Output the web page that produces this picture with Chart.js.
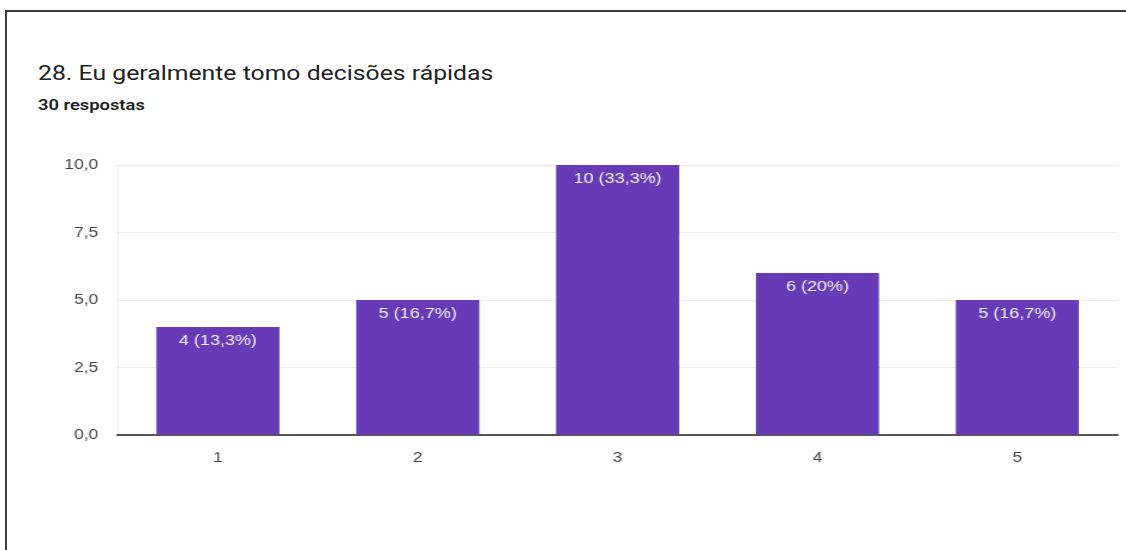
<!DOCTYPE html>
<html lang="pt">
<head>
<meta charset="UTF-8">
<title>28. Eu geralmente tomo decisões rápidas</title>
<script src="https://cdn.jsdelivr.net/npm/chart.js@4.4.0/dist/chart.umd.min.js"></script>
<style>
    body { margin: 0; background: #fff; overflow: hidden; }
    #frame {
        position: absolute; left: 5px; top: 10px; width: 1200px; height: 600px;
        border-top: 2px solid #3a3a3a; border-left: 2px solid #3a3a3a;
    }
    #titulo {
        position: absolute; left: 38px; top: 61px; transform: scaleX(1.18); transform-origin: 0 0;
        font-family: Roboto, "Noto Sans", sans-serif; font-size: 21px; color: #202124; white-space: nowrap;
    }
    #sub {
        position: absolute; left: 38px; top: 97px; transform: scaleX(1.31); transform-origin: 0 0;
        font-family: Roboto, "Noto Sans", sans-serif; font-size: 14px; font-weight: 600; color: #202124; white-space: nowrap;
    }
    /* o gráfico é desenhado mais estreito e esticado na horizontal */
    #wrap {
        position: absolute; left: 0; top: 0; width: 938px; height: 550px;
        transform: scaleX(1.2); transform-origin: 0 0;
    }
</style>
</head>
<body>
<div id="frame"></div>
<div id="titulo">28. Eu geralmente tomo decisões rápidas</div>
<div id="sub">30 respostas</div>
<div id="wrap"><canvas id="grafico" width="938" height="550"></canvas></div>

<script>
    const categorias = ["1", "2", "3", "4", "5"];
    const respostas = [4, 5, 10, 6, 5];
    const percentuais = ["13,3%", "16,7%", "33,3%", "20%", "16,7%"];
    const ticksY = [0, 2.5, 5, 7.5, 10];

    const roxo = "#673ab7";
    const fonte = "'Liberation Sans', Arial, sans-serif";

    // escreve "n (x%)" dentro do topo de cada barra
    const rotulosBarras = {
        id: "rotulosBarras",
        afterDatasetsDraw(chart) {
            const ctx = chart.ctx;
            const meta = chart.getDatasetMeta(0);
            ctx.save();
            ctx.font = "15px " + fonte;
            ctx.fillStyle = "#f6f2ff";
            ctx.textAlign = "center";
            ctx.textBaseline = "middle";
            meta.data.forEach((bar, i) => {
                ctx.fillText(respostas[i] + " (" + percentuais[i] + ")", bar.x, bar.y + 14);
            });
            ctx.restore();
        }
    };

    new Chart(document.getElementById("grafico"), {
        type: "bar",
        data: {
            labels: categorias,
            datasets: [{
                data: respostas,
                backgroundColor: roxo,
                barPercentage: 0.616,
                categoryPercentage: 1
            }]
        },
        options: {
            responsive: false,
            animation: false,
            events: [],
            layout: { padding: { left: 16, right: 7, top: 165, bottom: 85 } },
            plugins: { legend: { display: false }, tooltip: { enabled: false } },
            scales: {
                x: {
                    offset: true,
                    grid: {
                        drawTicks: false,
                        color: (c) => (c.index === 0 || c.index === categorias.length) ? "#eeeeee" : "rgba(0,0,0,0)"
                    },
                    border: { display: true, color: "#555555", width: 2 },
                    ticks: {
                        padding: 14,
                        color: "#444444",
                        font: { family: fonte, size: 14.5 }
                    },
                    afterFit: (s) => { s.height = 30; }
                },
                y: {
                    min: 0,
                    max: 10,
                    afterBuildTicks: (s) => { s.ticks = ticksY.map(v => ({ value: v })); },
                    grid: { drawTicks: false, color: "#ececec" },
                    border: { display: false },
                    ticks: {
                        padding: 16.5,
                        color: "#444444",
                        font: { family: fonte, size: 14.5 },
                        callback: (v) => v.toFixed(1).replace(".", ",")
                    },
                    afterFit: (s) => { s.width = 82.3; }
                }
            }
        },
        plugins: [rotulosBarras]
    });
</script>
</body>
</html>
